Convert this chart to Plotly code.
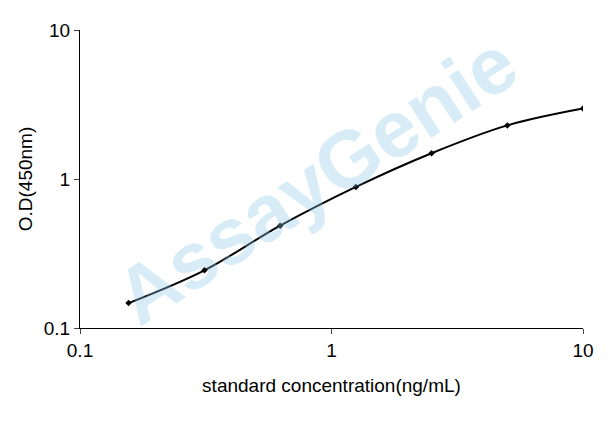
import plotly.graph_objects as go

conc = [0.156, 0.3125, 0.625, 1.25, 2.5, 5, 10]
od = [0.147, 0.244, 0.486, 0.885, 1.49, 2.29, 2.97]

fig = go.Figure()
fig.add_trace(go.Scatter(
    x=conc, y=od, mode="lines+markers",
    line=dict(color="black", width=2, shape="spline"),
    marker=dict(symbol="diamond", size=5, color="black"),
    showlegend=False,
))

# watermark
fig.add_annotation(
    text="<b>AssayGenie</b>", x=0.47, y=0.5, xref="paper", yref="paper",
    textangle=-33, showarrow=False,
    font=dict(family="Liberation Sans", size=80, color="rgba(140,200,230,0.35)"),
)

axis_font = dict(family="Liberation Sans", size=19, color="black")
fig.update_xaxes(
    type="log", range=[-1, 1], tickvals=[0.1, 1, 10], ticktext=["0.1", "1", "10"],
    showline=True, linecolor="black", linewidth=1, ticks="outside", ticklen=5,
    showgrid=False, zeroline=False, tickfont=axis_font,
    title=dict(text="standard concentration(ng/mL)", font=axis_font, standoff=18),
)
fig.update_yaxes(
    type="log", range=[-1, 1], tickvals=[0.1, 1, 10], ticktext=["0.1", "1", "10"],
    showline=True, linecolor="black", linewidth=1, ticks="outside", ticklen=5,
    showgrid=False, zeroline=False, tickfont=axis_font,
    title=dict(text="O.D(450nm)", font=axis_font, standoff=6),
)
fig.update_layout(
    width=608, height=428, plot_bgcolor="white", paper_bgcolor="white",
    margin=dict(l=72, r=33, t=19, b=108),
)
fig.write_html("out.html")
